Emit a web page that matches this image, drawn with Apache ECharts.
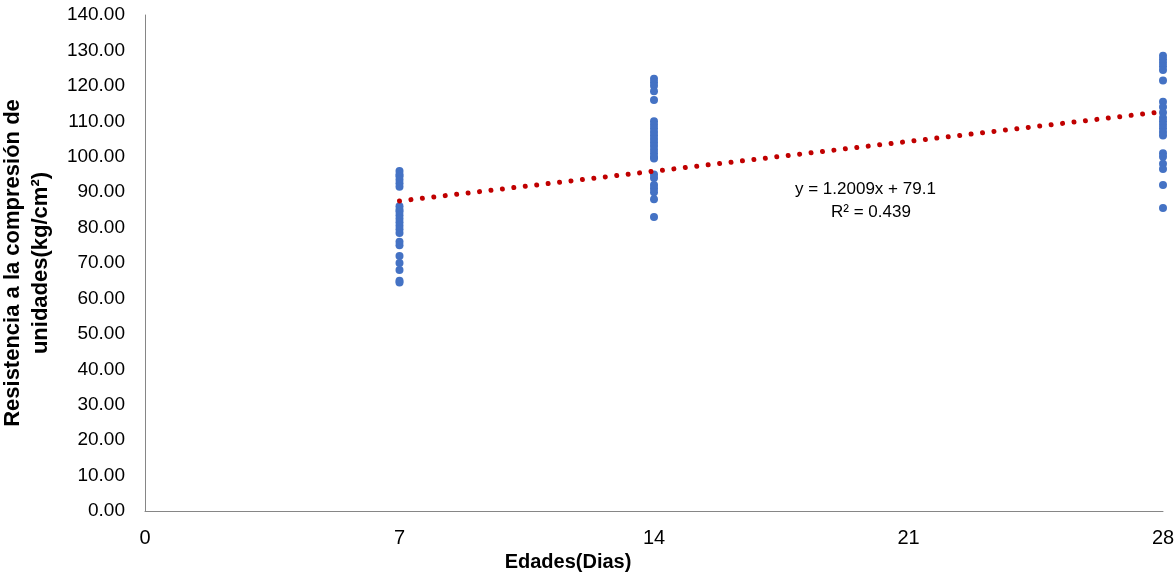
<!DOCTYPE html>
<html>
<head>
<meta charset="utf-8">
<script src="https://cdn.jsdelivr.net/npm/echarts@6/dist/echarts.min.js"></script>
<style>
  html, body { margin: 0; padding: 0; background: #fff; }
  #chart { width: 1176px; height: 574px; }
</style>
</head>
<body>
<div id="chart"></div>
<script>
// ensayos por edad (kg/cm2)
var ages = [7, 14, 28];
var day7 = [96, 95, 94.5, 93.5, 92.5, 91.5, 86, 85, 84.5, 83.5, 82.5, 81.5, 80.5, 79.5, 78.5, 76, 75, 72, 70, 68, 65, 64.5];
var day14 = [122, 121, 120, 118.5, 116, 110, 109, 108, 107, 106, 105, 104, 103, 102, 101, 100, 99.5, 95, 94, 92, 91, 90, 88, 83];
var day28 = [128.5, 127.5, 126.5, 125.5, 124.5, 121.5, 115.5, 114, 112.5, 111, 110, 109, 108, 107, 106, 101, 100, 98, 96.5, 92, 85.5];
var xTicks = [0, 7, 14, 21, 28];
var yTicks = [0, 10, 20, 30, 40, 50, 60, 70, 80, 90, 100, 110, 120, 130, 140];

// linea de tendencia (Excel)
var slope = 1.2009;
var intercept = 79.1;
var r2 = 0.439;

var points = [];
[day7, day14, day28].forEach(function (vals, i) {
    vals.forEach(function (v) { points.push([ages[i], v]); });
});
var trend = [ages[0], ages[ages.length - 1]].map(function (x) {
    return [x, slope * x + intercept];
});

var font = "'Liberation Sans', Arial, sans-serif";

var chart = echarts.init(document.getElementById('chart'));
chart.setOption({
    animation: false,
    grid: { left: 145, right: 13, top: 15, bottom: 63, outerBoundsMode: 'none', containLabel: false },
    xAxis: {
        type: 'value',
        min: xTicks[0],
        max: xTicks[xTicks.length - 1],
        interval: 7,
        name: 'Edades(Dias)',
        nameLocation: 'middle',
        nameGap: 38,
        nameTextStyle: {
            fontFamily: font, fontWeight: 'bold', fontSize: 20, color: '#000',
            padding: [0, 172, 0, 0]
        },
        axisLine: { lineStyle: { color: '#868686', width: 1 } },
        axisTick: { show: false },
        splitLine: { show: false },
        axisLabel: { fontFamily: font, fontSize: 20, color: '#000', margin: 17 }
    },
    yAxis: {
        type: 'value',
        min: yTicks[0],
        max: yTicks[yTicks.length - 1],
        interval: 10,
        name: 'Resistencia a la compresión de\nunidades(kg/cm²)',
        nameLocation: 'middle',
        nameGap: 90,
        nameTextStyle: {
            fontFamily: font, fontWeight: 'bold', fontSize: 22, color: '#000', lineHeight: 28
        },
        axisLine: { show: true, lineStyle: { color: '#868686', width: 1 } },
        axisTick: { show: false },
        splitLine: { show: false },
        axisLabel: {
            fontFamily: font, fontSize: 19, color: '#000', margin: 20,
            formatter: function (v) { return v.toFixed(2); }
        }
    },
    graphic: [{
        type: 'text',
        left: 795, top: 181,
        style: { text: 'y = ' + slope + 'x + ' + intercept, font: '17px ' + font, fill: '#000' }
    }, {
        type: 'text',
        left: 831, top: 204,
        style: { text: 'R² = ' + r2, font: '17px ' + font, fill: '#000' }
    }],
    series: [{
        type: 'scatter',
        data: points,
        symbol: 'circle',
        symbolSize: 8,
        itemStyle: { color: '#4472C4', opacity: 1 },
        z: 2
    }, {
        type: 'line',
        data: trend,
        symbol: 'none',
        lineStyle: { color: '#C00000', width: 5, type: [0.01, 11.5], cap: 'round' },
        z: 3
    }]
});
</script>
</body>
</html>
